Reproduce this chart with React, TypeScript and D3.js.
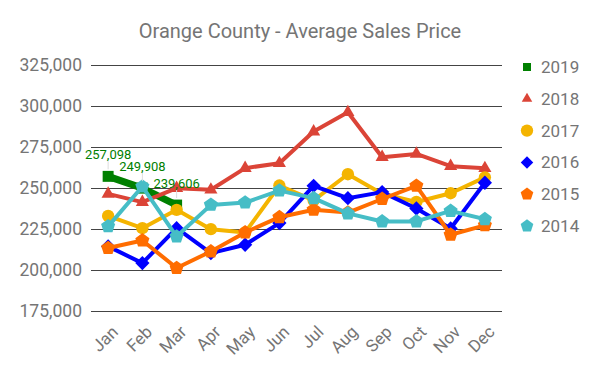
import React, { useRef, useEffect } from 'react';
import * as d3 from 'd3';

const months = ['Jan', 'Feb', 'Mar', 'Apr', 'May', 'Jun', 'Jul', 'Aug', 'Sep', 'Oct', 'Nov', 'Dec'];
const yTicks = [175000, 200000, 225000, 250000, 275000, 300000, 325000];

const s2019 = [257098, 249908, 239606];
const s2018 = [246400, 241400, 249900, 248900, 262100, 265100, 284400, 296200, 268800, 270800, 263300, 262000];
const s2017 = [233000, 225500, 236700, 224900, 222900, 251500, 242500, 258400, 246500, 241500, 246800, 256500];
const s2016 = [214400, 204200, 225500, 210300, 215400, 228600, 251300, 243800, 247500, 237500, 225300, 253200];
const s2015 = [213400, 218000, 201200, 211300, 222900, 232200, 236700, 235000, 243300, 251300, 221500, 227200];
const s2014 = [226600, 250900, 220400, 239700, 241100, 248400, 243800, 234500, 229600, 229600, 236000, 231000];

const series = [
  { name: '2019', values: s2019, color: '#008000', shape: 'square', width: 7 },
  { name: '2018', values: s2018, color: '#db4437', shape: 'triangle', width: 4 },
  { name: '2017', values: s2017, color: '#f4b400', shape: 'circle', width: 4 },
  { name: '2016', values: s2016, color: '#0000ff', shape: 'diamond', width: 4 },
  { name: '2015', values: s2015, color: '#ff6d00', shape: 'pentagon', width: 4 },
  { name: '2014', values: s2014, color: '#46bdc6', shape: 'pentagon', width: 4 },
];

// d3 has no pentagon, so build one
const pentagon = {
  draw(ctx: any, size: number) {
    const r = Math.sqrt(size / 2.378);
    for (let i = 0; i < 5; i++) {
      const a = -Math.PI / 2 + (i * 2 * Math.PI) / 5;
      const px = r * Math.cos(a);
      const py = r * Math.sin(a);
      if (i === 0) ctx.moveTo(px, py);
      else ctx.lineTo(px, py);
    }
    ctx.closePath();
  },
};

const symbolFor = (shape: string) => {
  if (shape === 'square') return d3.symbolSquare;
  if (shape === 'triangle') return d3.symbolTriangle;
  if (shape === 'circle') return d3.symbolCircle;
  if (shape === 'diamond') return d3.symbolDiamond2;
  return pentagon;
};

const markerSize: Record<string, number> = { square: 120, triangle: 75, circle: 120, diamond: 130, pentagon: 130 };
const legendSize: Record<string, number> = { square: 64, triangle: 48, circle: 120, diamond: 100, pentagon: 105 };

const App = () => {
  const ref = useRef(null);

  useEffect(() => {
    const svg = d3.select(ref.current);
    svg.selectAll('*').remove();

    const margin = { top: 65, right: 98, bottom: 60, left: 91 };
    const width = 600 - margin.left - margin.right;
    const y0 = 311;

    const x = d3.scaleBand().domain(months).range([margin.left, margin.left + width]);
    const cx = (m: string) => (x(m) as number) + x.bandwidth() / 2;
    const y = d3.scaleLinear().domain([175000, 325000]).range([y0, margin.top]);

    const font = 'Roboto, sans-serif';

    svg.append('text')
      .attr('x', 300).attr('y', 38)
      .attr('text-anchor', 'middle')
      .attr('font-family', font).attr('font-size', 20)
      .attr('fill', '#757575')
      .text('Orange County - Average Sales Price');

    const grid = svg.append('g');
    yTicks.forEach((t) => {
      grid.append('line')
        .attr('x1', margin.left).attr('x2', margin.left + width)
        .attr('y1', Math.round(y(t)) + 0.5).attr('y2', Math.round(y(t)) + 0.5)
        .attr('stroke', '#444').attr('stroke-width', 1);
      grid.append('text')
        .attr('x', 82).attr('y', y(t)).attr('dy', '0.35em')
        .attr('text-anchor', 'end')
        .attr('font-family', font).attr('font-size', 17.5)
        .attr('fill', '#757575')
        .text(d3.format(',')(t));
    });

    months.forEach((m) => {
      svg.append('text')
        .attr('transform', `translate(${cx(m) + 11},${y0 + 22}) rotate(-45)`)
        .attr('text-anchor', 'end')
        .attr('font-family', font).attr('font-size', 17)
        .attr('fill', '#757575')
        .text(m);
    });

    const line = d3.line<number>()
      .x((d, i) => cx(months[i]))
      .y((d) => y(d));

    // first series sits at the bottom, 2014 on top
    series.forEach((s) => {
      const g = svg.append('g');
      g.append('path')
        .attr('d', line(s.values))
        .attr('fill', 'none')
        .attr('stroke', s.color)
        .attr('stroke-width', s.width)
        .attr('stroke-linejoin', 'round');
      g.selectAll('path.pt')
        .data(s.values)
        .enter()
        .append('path')
        .attr('class', 'pt')
        .attr('transform', (d, i) => `translate(${cx(months[i])},${y(d)})`)
        .attr('d', d3.symbol().type(symbolFor(s.shape) as any).size(markerSize[s.shape])())
        .attr('fill', s.color);
    });

    // data labels for 2019
    const lab = svg.append('g');
    s2019.forEach((v, i) => {
      lab.append('line')
        .attr('x1', cx(months[i])).attr('x2', cx(months[i]))
        .attr('y1', y(v) - 15).attr('y2', y(v) - 7)
        .attr('stroke', '#ddd').attr('stroke-width', 1);
      lab.append('text')
        .attr('x', cx(months[i])).attr('y', y(v) - 17)
        .attr('text-anchor', 'middle')
        .attr('font-family', font).attr('font-size', 13)
        .attr('fill', '#008000')
        .text(d3.format(',')(v));
    });

    const legend = svg.append('g');
    series.forEach((s, i) => {
      const ly = 67 + i * 31.8;
      legend.append('path')
        .attr('transform', `translate(527,${ly})`)
        .attr('d', d3.symbol().type(symbolFor(s.shape) as any).size(legendSize[s.shape])())
        .attr('fill', s.color);
      legend.append('text')
        .attr('x', 541).attr('y', ly).attr('dy', '0.35em')
        .attr('font-family', font).attr('font-size', 17)
        .attr('fill', '#757575')
        .text(s.name);
    });
  }, []);

  return (
    <svg ref={ref} width={600} height={371} style={{ position: 'absolute', left: 0, top: 0, background: '#fff' }} />
  );
};

export default App;
